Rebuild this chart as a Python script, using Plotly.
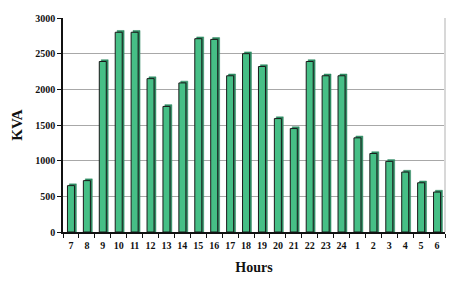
import plotly.graph_objects as go

hours = ["7","8","9","10","11","12","13","14","15","16","17","18","19","20","21","22","23","24","1","2","3","4","5","6"]
kva = [650,720,2390,2800,2800,2150,1760,2090,2710,2700,2190,2500,2320,1590,1450,2390,2190,2190,1320,1100,990,840,690,560]

y_ticks = [0,500,1000,1500,2000,2500,3000]

depth = 25  # 3D depth in KVA units
bw = 0.44

fig = go.Figure()
# depth/side face
fig.add_trace(go.Bar(
    x=hours, y=[v + depth for v in kva], width=bw, offset=-bw/2 + 0.12,
    marker=dict(color="#2F8A62", line=dict(color="#2F8A62", width=0.5)),
    hoverinfo="skip", showlegend=False))
# front face
fig.add_trace(go.Bar(
    x=hours, y=kva, width=bw, offset=-bw/2,
    marker=dict(color="#46BF86", line=dict(color="#1a1a1a", width=1)),
    showlegend=False))

fig.update_layout(
    width=465, height=283, barmode="overlay",
    margin=dict(l=63, r=20, t=18, b=51),
    plot_bgcolor="white", paper_bgcolor="white",
    font=dict(family="Liberation Serif", color="#111", size=10),
    xaxis=dict(
        type="category", tickson="boundaries", ticks="outside", ticklen=4,
        tickcolor="#111", showline=True, linecolor="#111", linewidth=1.5,
        showgrid=False, tickangle=0, ticklabelstandoff=3, automargin=False,
        tickfont=dict(size=10, family="Liberation Serif", weight="bold"),
        title=dict(text="<b>Hours</b>", font=dict(size=14), standoff=12),
        range=[-0.5, 23.5],
    ),
    yaxis=dict(
        range=[0, 3000], tickvals=y_ticks, ticks="outside", ticklen=4,
        tickcolor="#111", showline=True, linecolor="#111", linewidth=1.5,
        gridcolor="#A8A8A8", gridwidth=1, automargin=False,
        tickfont=dict(size=10, family="Liberation Serif", weight="bold"),
        title=dict(text="<b>KVA</b>", font=dict(size=15), standoff=9),
    ),
)
fig.add_shape(type="line", xref="paper", yref="paper", x0=1, x1=1, y0=0, y1=1,
              line=dict(color="#D8D8D8", width=2))

fig.write_html("out.html")
